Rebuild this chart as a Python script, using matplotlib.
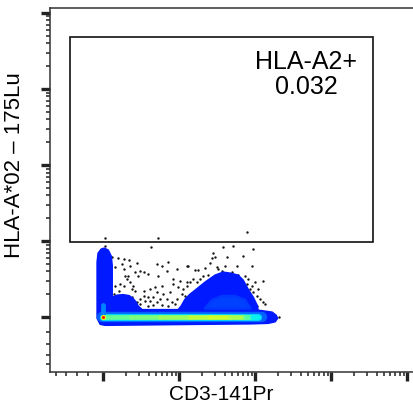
#!/usr/bin/env python3
"""Pseudocolor gate plot: HLA-A*02 vs CD3 (log-decade axes)."""

import numpy as np
import matplotlib
matplotlib.use("Agg")
import matplotlib.pyplot as plt
from matplotlib.collections import LineCollection
from matplotlib.patches import Polygon, Rectangle

plt.rcParams['font.family'] = ['Liberation Sans', 'DejaVu Sans']

# ---- data (log10 decades) ----
# outline of the main (low density, blue) population
blob_x = [-0.039, -0.079, -0.079, -0.079, -0.066, -0.026, 0.013, 0.066, 0.105, 0.118,
          0.118, 0.184, 0.263, 0.342, 0.395, 0.434, 0.461, 0.513, 0.987, 1.026,
          1.079, 1.145, 1.211, 1.342, 1.474, 1.579, 1.671, 1.776, 1.842, 1.908,
          1.974, 2.026, 2.039, 2.132, 2.224, 2.276, 2.296, 2.263, 2.171, 1.934,
          1.276, 0.618, 0.026]
blob_y = [-0.092, -0.013, 0.224, 0.724, 0.842, 0.895, 0.908, 0.882, 0.803, 0.684,
          0.263, 0.289, 0.296, 0.283, 0.243, 0.197, 0.145, 0.099, 0.099, 0.145,
          0.237, 0.303, 0.355, 0.461, 0.553, 0.592, 0.579, 0.553, 0.487, 0.368,
          0.263, 0.158, 0.092, 0.079, 0.066, 0.026, -0.013, -0.059, -0.079, -0.086,
          -0.092, -0.099, -0.105]

# slightly denser core inside the CD3+ hump
core_x = [1.342, 1.434, 1.566, 1.737, 1.868, 1.934]
core_y = [0.118, 0.224, 0.276, 0.276, 0.224, 0.118]

# dense ridge along HLA-A*02 = 0 (x position, density level 0..1)
ridge_x = [0.0, 0.04, 0.36, 0.75, 1.14, 1.41, 1.67, 1.87, 1.96, 2.04]
ridge_level = [0.62, 0.48, 0.47, 0.50, 0.54, 0.58, 0.60, 0.56, 0.46, 0.36]

# single events outside the dense regions
event_x = [0.018, 0.728, 0.632, 0.018, 0.114, 0.189, 0.268, 0.346, 0.443, 0.246,
           0.355, 0.268, 0.158, 0.487, 0.531, 0.421, 0.596, 0.289, 0.333, 0.465,
           0.706, 0.772, 0.860, 0.838, 0.969, 1.101, 0.728, 0.925, 1.013, 0.311,
           0.355, 0.399, 0.224, 0.268, 0.158, 0.136, 0.202, 0.377, 0.421, 0.531,
           0.618, 0.684, 0.772, 0.925, 0.991, 1.057, 1.101, 0.531, 0.596, 0.662,
           0.487, 0.553, 0.618, 0.706, 0.750, 0.838, 0.904, 0.969, 1.035, 0.487,
           0.596, 0.662, 0.772, 0.860, 0.947, 0.377, 0.443, 0.794, 0.882, 0.706,
           1.583, 1.715, 1.978, 1.452, 1.627, 1.846, 1.430, 1.474, 1.114, 1.211,
           1.254, 1.408, 1.342, 1.496, 1.605, 1.759, 1.956, 1.189, 1.232, 1.276,
           1.320, 1.386, 1.518, 1.561, 1.693, 1.781, 1.868, 1.912, 2.000, 2.110,
           1.868, 1.934, 1.978, 2.022, 2.066, 2.110, 2.022, 2.132, 2.316, 1.079,
           1.101, 1.145, 1.890, 1.956, 2.044, 1.890]
event_y = [1.044, 1.044, 0.930, 0.934, 0.789, 0.776, 0.768, 0.759, 0.715, 0.702,
           0.680, 0.636, 0.658, 0.614, 0.601, 0.592, 0.570, 0.548, 0.539, 0.548,
           0.702, 0.680, 0.724, 0.614, 0.636, 0.680, 0.548, 0.504, 0.482, 0.504,
           0.461, 0.417, 0.439, 0.417, 0.417, 0.307, 0.351, 0.373, 0.351, 0.351,
           0.373, 0.395, 0.417, 0.439, 0.395, 0.373, 0.461, 0.285, 0.263, 0.263,
           0.241, 0.219, 0.219, 0.197, 0.241, 0.241, 0.197, 0.241, 0.307, 0.175,
           0.154, 0.162, 0.162, 0.145, 0.175, 0.263, 0.197, 0.307, 0.329, 0.329,
           0.921, 0.934, 0.899, 0.846, 0.789, 0.811, 0.776, 0.798, 0.680, 0.627,
           0.627, 0.715, 0.645, 0.658, 0.680, 0.671, 0.671, 0.504, 0.461, 0.504,
           0.548, 0.557, 0.636, 0.614, 0.592, 0.557, 0.548, 0.504, 0.461, 0.482,
           0.417, 0.373, 0.329, 0.285, 0.241, 0.197, 0.154, 0.175, 0.000, 0.285,
           0.417, 0.461, 0.439, 0.417, 0.373, 1.120]

# gate: x0, x1, y0, y1 (decades)
gate = [-0.434, 3.557, 0.991, 3.688]
gate_name = "HLA-A2+"
gate_freq = "0.032"

major_ticks = [0, 1, 2, 3, 4]
below_zero_ticks = [-0.2, -0.35, -0.49, -0.62]


def minor_positions():
    pos = list(below_zero_ticks)
    for d in range(4):
        for k in range(2, 10):
            pos.append(d + np.log10(k))
    return pos


def main():
    fig = plt.figure(figsize=(4.14, 4.07), dpi=100)
    # axes runs past the right edge of the figure, as in the source image
    ax = fig.add_axes([50 / 414, 35 / 407, 395 / 414, 364 / 407])
    ax.set_xlim(-0.70, 4.50)
    ax.set_ylim(-0.72, 4.066)

    jet = plt.get_cmap('jet')

    # single events (under the density so overlaps are hidden)
    ax.scatter(event_x, event_y, s=3.0, color='#151515', linewidths=0, zorder=1)

    # low density envelope
    ax.add_patch(Polygon(np.column_stack([blob_x, blob_y]), closed=True,
                         facecolor=jet(0.15), edgecolor=jet(0.15), lw=1.2,
                         joinstyle='round', zorder=2))
    ax.add_patch(Polygon(np.column_stack([core_x, core_y]), closed=True,
                         facecolor=jet(0.19), edgecolor=jet(0.18), lw=2,
                         joinstyle='round', zorder=3))

    # dense ridge at HLA-A*02 = 0
    rx = np.array(ridge_x)
    ry = np.zeros_like(rx)
    ax.plot([rx[0] - 0.02, rx[-1] + 0.05], [0, 0], color=jet(0.22), lw=7.5,
            solid_capstyle='round', zorder=4)
    ax.plot([rx[0], rx[-1]], [0, 0], color=jet(0.33), lw=5.2,
            solid_capstyle='round', zorder=5)
    pts = np.column_stack([rx, ry]).reshape(-1, 1, 2)
    segs = np.concatenate([pts[:-1], pts[1:]], axis=1)
    lc = LineCollection(segs, cmap=jet, norm=plt.Normalize(0, 1),
                        linewidths=3.4, capstyle='round', zorder=6)
    lc.set_array(np.array(ridge_level[1:]))
    ax.add_collection(lc)
    ax.plot([0, 0], [0, 0.16], color=jet(0.25), lw=3.5,
            solid_capstyle='round', zorder=5)
    ax.scatter([rx[0]], [0], s=14, color=jet(ridge_level[0]), linewidths=0, zorder=7)
    ax.scatter([rx[0]], [0], s=5, color=jet(0.88), linewidths=0, zorder=8)

    # gate
    ax.add_patch(Rectangle((gate[0], gate[2]), gate[1] - gate[0], gate[3] - gate[2],
                           fill=False, edgecolor='#111111', lw=1.2, zorder=9))
    ax.text(2.67, 3.19, gate_name + "\n" + gate_freq, ha='center', va='center',
            multialignment='center', fontsize=18, linespacing=1.05, zorder=10)

    # axes styling
    ax.spines['right'].set_visible(False)
    for side in ['left', 'top', 'bottom']:
        ax.spines[side].set_color('#333333')
        ax.spines[side].set_linewidth(1.1)
    ax.set_xticks(major_ticks)
    ax.set_yticks(major_ticks)
    ax.set_xticks(minor_positions(), minor=True)
    ax.set_yticks(minor_positions(), minor=True)
    ax.tick_params(which='major', direction='out', length=6.5, width=2.4,
                   color='#222222', labelbottom=False, labelleft=False)
    ax.tick_params(which='minor', direction='out', length=3.2, width=1.1,
                   color='#222222')

    fig.text(221 / 414, 1 - 395 / 407, "CD3-141Pr", ha='center', va='center',
             fontsize=15)
    fig.text(15 / 414, 1 - 165 / 407, "HLA-A*02 \u2013 175Lu", ha='center',
             va='center', rotation=90, fontsize=16)

    fig.savefig('out.png', dpi=100)
    plt.close(fig)


if __name__ == "__main__":
    main()
